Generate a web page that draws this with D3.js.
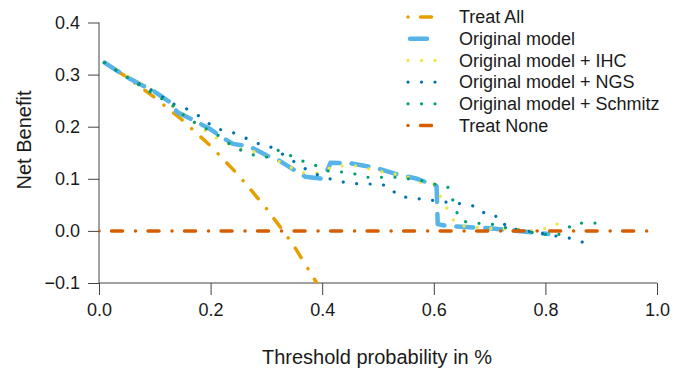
<html>
<head>
<meta charset="UTF-8">
<title>decision curve</title>
<script src="https://d3js.org/d3.v7.min.js"></script>
<style>
  body { margin: 0; background: #ffffff; }
  text { font-family: "Liberation Sans", Arial, sans-serif; fill: #1a1a1a; }
  .axis path, .axis line { stroke: #444; stroke-width: 1; }
</style>
</head>
<body>
<div id="chart"></div>
<script>
// x ticks / y ticks
var xTicks = [0, 0.2, 0.4, 0.6, 0.8, 1.0];
var yTicks = [-0.1, 0, 0.1, 0.2, 0.3, 0.4];

// series as [threshold, net benefit]
var treatAll = [[0.01,0.323],[0.05,0.295],[0.10,0.256],[0.15,0.212],[0.20,0.163],[0.25,0.107],
  [0.30,0.043],[0.33,0.0],[0.35,-0.03],[0.40,-0.117]];
var original = [[0.01,0.323],[0.05,0.295],[0.10,0.267],[0.13,0.245],[0.14,0.228],[0.17,0.212],
  [0.20,0.195],[0.22,0.180],[0.24,0.167],[0.27,0.162],[0.30,0.145],[0.32,0.137],[0.36,0.110],
  [0.37,0.104],[0.40,0.100],[0.41,0.118],[0.415,0.131],[0.45,0.130],[0.50,0.120],[0.53,0.110],
  [0.57,0.100],[0.595,0.090],[0.605,0.086],[0.607,0.013],[0.62,0.010],[0.65,0.008],[0.70,0.005],
  [0.75,0.0],[0.805,-0.006]];
var ihc = [[0.01,0.323],[0.10,0.267],[0.13,0.240],[0.15,0.225],[0.20,0.185],[0.22,0.172],
  [0.25,0.158],[0.28,0.152],[0.30,0.143],[0.33,0.130],[0.36,0.112],[0.38,0.110],[0.40,0.112],
  [0.42,0.125],[0.46,0.125],[0.50,0.115],[0.55,0.105],[0.58,0.092],[0.60,0.090],[0.61,0.070],
  [0.62,0.050],[0.63,0.030],[0.64,0.012],[0.66,0.008],[0.70,0.005],[0.75,0.003],[0.78,0.0],
  [0.80,0.005],[0.81,0.011],[0.83,0.015]];
var ngs = [[0.01,0.323],[0.05,0.295],[0.10,0.267],[0.13,0.245],[0.16,0.233],[0.18,0.220],
  [0.21,0.195],[0.23,0.193],[0.26,0.180],[0.28,0.168],[0.30,0.166],[0.32,0.153],[0.34,0.140],
  [0.36,0.125],[0.38,0.113],[0.40,0.104],[0.42,0.098],[0.45,0.091],[0.48,0.090],[0.50,0.090],
  [0.52,0.086],[0.535,0.067],[0.56,0.063],[0.58,0.061],[0.61,0.057],[0.63,0.054],[0.65,0.052],
  [0.68,0.046],[0.695,0.029],[0.72,0.027],[0.73,0.006],[0.80,-0.006],[0.82,-0.010],
  [0.85,-0.015],[0.87,-0.023]];
var schmitz = [[0.01,0.323],[0.05,0.295],[0.09,0.268],[0.13,0.243],[0.15,0.224],[0.17,0.209],
  [0.19,0.197],[0.21,0.186],[0.23,0.170],[0.25,0.157],[0.275,0.146],[0.30,0.142],[0.32,0.155],
  [0.34,0.146],[0.365,0.134],[0.39,0.125],[0.41,0.115],[0.435,0.113],[0.46,0.109],[0.48,0.103],
  [0.50,0.103],[0.53,0.103],[0.555,0.100],[0.58,0.096],[0.60,0.090],[0.625,0.084],[0.633,0.063],
  [0.64,0.038],[0.65,0.019],[0.67,0.015],[0.70,0.014],[0.72,0.008],[0.74,0.004],[0.77,-0.002],
  [0.79,-0.005],[0.81,-0.008],[0.83,-0.006],[0.85,0.015],[0.875,0.015],[0.895,0.015]];
var treatNone = [[0,0],[1,0]];

var names = ["Treat All", "Original model", "Original model + IHC", "Original model + NGS",
  "Original model + Schmitz", "Treat None"];
var colors = ["#E69F00", "#56B4E9", "#F0E442", "#0072B2", "#009E73", "#D55E00"];

var series = [treatAll, original, ihc, ngs, schmitz, treatNone];
var styles = [
  {w: 3.5, dash: "0.01 12.5 11 13"},
  {w: 4.5, dash: "17 12"},
  {w: 3.2, dash: "0.01 13.5"},
  {w: 3.2, dash: "0.01 13.5"},
  {w: 3.2, dash: "0.01 13.5"},
  {w: 3.5, dash: "0.01 12.5 11 13"}
];

var W = 694, H = 370;
var x = d3.scaleLinear().domain([0, 1]).range([99, 657]);
var y = d3.scaleLinear().domain([-0.1, 0.4]).range([283, 22.5]);

var svg = d3.select("#chart").append("svg")
  .attr("width", W).attr("height", H);

svg.append("defs").append("clipPath").attr("id", "clip")
  .append("rect")
  .attr("x", x(0)).attr("y", y(0.4))
  .attr("width", x(1) - x(0)).attr("height", y(-0.1) - y(0.4));

// axes
var gx = svg.append("g").attr("class", "axis")
  .attr("transform", "translate(0," + y(-0.1) + ")")
  .call(d3.axisBottom(x).tickValues(xTicks).tickSize(12).tickPadding(8)
    .tickFormat(d3.format(".1f")));
var gy = svg.append("g").attr("class", "axis")
  .attr("transform", "translate(" + x(0) + ",0)")
  .call(d3.axisLeft(y).tickValues(yTicks).tickSize(11).tickPadding(8)
    .tickFormat(function(d) { return d3.format(".1f")(d).replace("-", "\u2212"); }));
[gx, gy].forEach(function(g) {
  g.select(".domain").attr("d", null);
  g.selectAll(".tick text").style("font-size", "18px").attr("fill", "#1a1a1a");
});
gx.append("line").attr("x1", x(0)).attr("x2", x(1)).attr("stroke", "#444");
gy.append("line").attr("y1", y(-0.1)).attr("y2", y(0.4)).attr("stroke", "#444");

svg.append("text")
  .attr("transform", "translate(31," + 140 + ") rotate(-90)")
  .attr("text-anchor", "middle")
  .style("font-size", "20px")
  .text("Net Benefit");
svg.append("text")
  .attr("x", 377).attr("y", 364)
  .attr("text-anchor", "middle")
  .style("font-size", "20px")
  .text("Threshold probability in %");

// curves
var line = d3.line().x(function(d) { return x(d[0]); }).y(function(d) { return y(d[1]); });
var plot = svg.append("g").attr("clip-path", "url(#clip)");
series.forEach(function(s, i) {
  plot.append("path")
    .attr("d", line(s))
    .attr("fill", "none")
    .attr("stroke", colors[i])
    .attr("stroke-width", styles[i].w)
    .attr("stroke-dasharray", styles[i].dash)
    .attr("stroke-linecap", "round")
    .attr("stroke-linejoin", "round");
});

// legend
var leg = svg.append("g");
names.forEach(function(n, i) {
  var ly = 17 + i * 21.7;
  leg.append("line")
    .attr("x1", i === 1 ? 410 : 408).attr("x2", 438)
    .attr("y1", ly).attr("y2", ly)
    .attr("stroke", colors[i])
    .attr("stroke-width", styles[i].w)
    .attr("stroke-dasharray", styles[i].dash)
    .attr("stroke-linecap", "round");
  leg.append("text")
    .attr("x", 459).attr("y", ly)
    .attr("dy", "0.35em")
    .style("font-size", "18px")
    .text(n);
});
</script>
</body>
</html>
